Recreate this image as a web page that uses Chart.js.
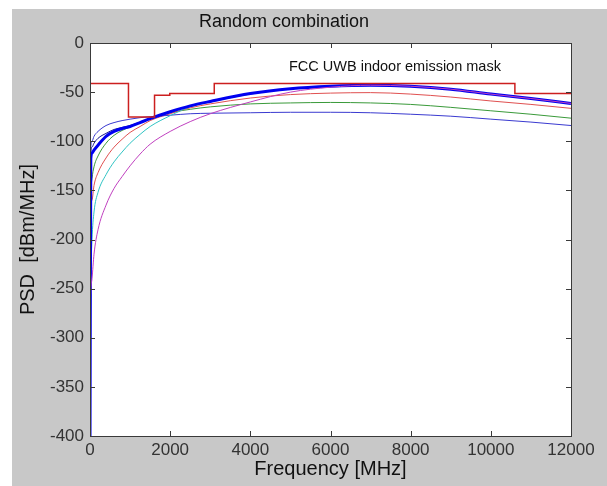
<!DOCTYPE html>
<html>
<head>
<meta charset="utf-8">
<script src="https://cdn.jsdelivr.net/npm/chart.js@4.4.1/dist/chart.umd.min.js"></script>
<style>
  body { margin: 0; background: #fff; }
  #wrap { width: 607px; height: 486px; }
</style>
</head>
<body>
<div id="wrap"><canvas id="chart" width="607" height="486"></canvas></div>
<script>
// frequency grid (MHz)
var freq = [0, 20, 50, 100, 200, 400, 600, 800, 1000, 1250, 1500, 2000, 2500, 3000, 4000, 5000, 6000, 7000, 8000, 9000, 10000, 11000, 12000]

// PSD curves (dBm/MHz)
var psdThick   = [-400, -118, -112, -109, -104, -95, -90, -87, -85, -81, -77, -70, -64, -59.5, -51.5, -46.5, -44, -43, -44, -47, -52, -56.5, -61.5]
var psdNavy    = [-400, -112, -106, -102, -97, -92, -88, -86, -84, -80.5, -77, -70, -64, -59.5, -51.5, -46.5, -44, -43, -44, -47, -52, -56.5, -61.5]
var psdBlue    = [-400, -106, -100, -95, -90, -84, -81, -79, -77.5, -76, -75, -73.5, -72, -71.5, -71, -70.5, -70.5, -71, -72.5, -74.5, -77.5, -80.5, -84]
var psdGreen   = [-385, -170, -138, -126, -115, -102, -94, -89, -85.5, -81, -77, -71, -67.5, -65, -62, -61, -60.5, -61, -62.5, -65.5, -69, -72.5, -76.5]
var psdRed     = [-365, -170, -160, -145, -132, -117, -106, -98, -91, -85, -79, -72, -66, -62, -56, -52.5, -51, -50.5, -52, -55, -59, -62.5, -66.5]
var psdCyan    = [-300, -240, -200, -172, -152, -134, -121, -111, -102, -93, -85, -74, -65, -60, -52, -46.5, -44, -43, -44, -47, -52, -56.5, -61.5]
var psdMagenta = [-272, -250, -240, -215, -190, -165, -148, -136, -125, -113, -103, -90, -80, -72, -60, -50, -45, -43, -44, -47, -52, -56.5, -61.5]

// FCC indoor mask
var maskFreq = [0, 960, 1610, 1990, 3100, 10600, 12000]
var maskPsd  = [-41.3, -75.3, -53.3, -51.3, -41.3, -51.3, -51.3]

var xTicks = [0, 2000, 4000, 6000, 8000, 10000, 12000]
var yTicks = [0, -50, -100, -150, -200, -250, -300, -350, -400]

var FONT = '"Liberation Sans", Arial, sans-serif'

function pts(xs, ys) {
  return xs.map(function (x, i) { return { x: x, y: ys[i] } })
}

function line(data, color, width) {
  return { data: pts(freq, data), borderColor: color, borderWidth: width, pointRadius: 0, cubicInterpolationMode: 'monotone', fill: false }
}

var frame = {
  id: 'frame',
  beforeDraw: function (c) {
    var ctx = c.ctx, a = c.chartArea
    ctx.save()
    ctx.fillStyle = '#c8c8c8'
    ctx.fillRect(12, 9, c.width - 12, c.height - 9)
    ctx.fillStyle = '#fff'
    ctx.fillRect(a.left, a.top, a.right - a.left, a.bottom - a.top)
    // title
    ctx.fillStyle = '#111'
    ctx.font = '18px ' + FONT
    ctx.textAlign = 'center'
    ctx.textBaseline = 'middle'
    ctx.fillText('Random combination', 284, 22)
    ctx.restore()
  },
  afterDatasetsDraw: function (c) {
    var ctx = c.ctx, a = c.chartArea
    var xs = c.scales.x, ys = c.scales.y
    ctx.save()
    ctx.strokeStyle = '#3a3a3a'
    ctx.lineWidth = 1
    ctx.strokeRect(a.left + 0.5, a.top + 0.5, a.right - a.left, a.bottom - a.top)
    ctx.beginPath()
    xTicks.forEach(function (v) {
      var px = Math.round(xs.getPixelForValue(v)) + 0.5
      ctx.moveTo(px, a.bottom); ctx.lineTo(px, a.bottom - 5)
      ctx.moveTo(px, a.top); ctx.lineTo(px, a.top + 5)
    })
    yTicks.forEach(function (v) {
      var py = Math.round(ys.getPixelForValue(v)) + 0.5
      ctx.moveTo(a.left, py); ctx.lineTo(a.left + 5, py)
      ctx.moveTo(a.right, py); ctx.lineTo(a.right - 5, py)
    })
    ctx.stroke()
    // annotation
    ctx.fillStyle = '#111'
    ctx.font = '14.5px ' + FONT
    ctx.textBaseline = 'middle'
    ctx.fillText('FCC UWB indoor emission mask', xs.getPixelForValue(4965), ys.getPixelForValue(-24.4))
    ctx.restore()
  }
}

var ctx = document.getElementById('chart').getContext('2d')
var myChart = new Chart(ctx, {
  type: 'line',
  data: {
    datasets: [
      { data: pts(maskFreq, maskPsd), borderColor: '#cc1f1f', borderWidth: 1.5, pointRadius: 0, stepped: 'before', fill: false },
      line(psdMagenta, '#c040c0', 1),
      line(psdThick, '#0000f0', 3),
      line(psdCyan, '#30c4c4', 1),
      line(psdNavy, '#1a1a90', 1),
      line(psdBlue, '#3a3ad0', 1),
      line(psdRed, '#e05050', 1),
      line(psdGreen, '#3a9a3a', 1)
    ]
  },
  options: {
    responsive: false,
    animation: false,
    events: [],
    layout: { padding: { left: 12, right: 36, top: 43, bottom: 0 } },
    plugins: {
      legend: { display: false },
      tooltip: { enabled: false },
      title: { display: false }
    },
    scales: {
      x: {
        type: 'linear',
        min: 0, max: 12000,
        afterBuildTicks: function (s) { s.ticks = xTicks.map(function (v) { return { value: v } }) },
        afterFit: function (s) { s.height = 50 },
        grid: { display: false, drawTicks: false },
        border: { display: false },
        ticks: { color: '#333', padding: 4, maxRotation: 0, font: { family: FONT, size: 17 }, callback: function (v) { return String(v) } },
        title: { display: true, text: 'Frequency [MHz]', color: '#111', padding: { top: 0, bottom: 5 }, font: { family: FONT, size: 20 } }
      },
      y: {
        min: -400, max: 0,
        afterBuildTicks: function (s) { s.ticks = yTicks.map(function (v) { return { value: v } }) },
        afterFit: function (s) { s.width = 78 },
        grid: { display: false, drawTicks: false },
        border: { display: false },
        ticks: { color: '#333', padding: 6, font: { family: FONT, size: 17 }, callback: function (v) { return String(v) } },
        title: { display: true, text: 'PSD  [dBm/MHz]', color: '#111', padding: { top: 4, bottom: 0 }, font: { family: FONT, size: 20 } }
      }
    }
  },
  plugins: [frame]
})
</script>
</body>
</html>
